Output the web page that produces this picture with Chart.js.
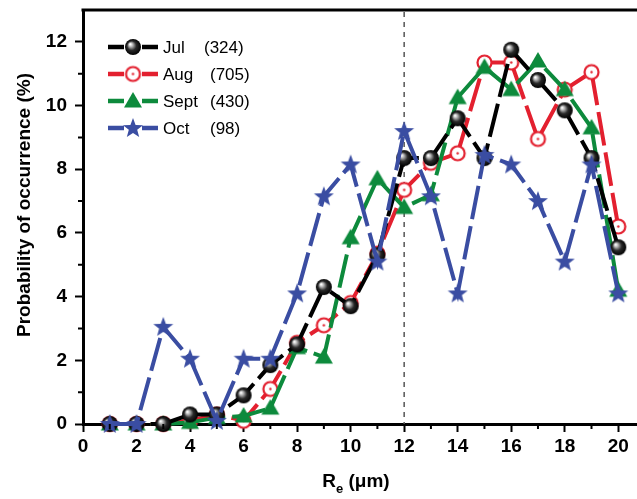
<!DOCTYPE html>
<html>
<head>
<meta charset="utf-8">
<script src="https://cdn.jsdelivr.net/npm/chart.js@4"></script>
<style>
  html, body { margin: 0; padding: 0; background: #fff; }
</style>
</head>
<body>
<canvas id="chart" width="637" height="499"></canvas>
<script>
// ── Data ─────────────────────────────────────────────────────────────────────
const RE   = [1, 2, 3, 4, 5, 6, 7, 8, 9, 10, 11, 12, 13, 14, 15, 16, 17, 18, 19, 20];
const JUL  = [0, 0, 0, 0.3, 0.3, 0.9, 1.85, 2.5, 4.3, 3.7, 5.3, 8.35, 8.35, 9.6, 8.35, 11.75, 10.8, 9.85, 8.35, 5.55];
const AUG  = [0, 0, 0, 0.1, 0.3, 0.1, 1.1, 2.55, 3.1, 3.8, 5.35, 7.35, 8.2, 8.5, 11.35, 11.35, 8.95, 10.5, 11.05, 6.2];
const SEPT = [0, 0, 0, 0.05, 0.2, 0.25, 0.5, 2.4, 2.1, 5.85, 7.7, 6.8, 7.2, 10.25, 11.2, 10.5, 11.4, 10.5, 9.3, 4.2];
const OCT  = [0, 0, 3.05, 2.05, 0.1, 2.05, 2.05, 4.1, 7.15, 8.15, 5.1, 9.2, 7.15, 4.1, 8.45, 8.15, 7.0, 5.1, 8.15, 4.1];

const SERIES_NAMES  = ['Jul', 'Aug', 'Sept', 'Oct'];
const SERIES_COUNTS = ['(324)', '(705)', '(430)', '(98)'];

const X_TICKS = [0, 2, 4, 6, 8, 10, 12, 14, 16, 18, 20];
const X_MINOR = [1, 3, 5, 7, 9, 11, 13, 15, 17, 19];
const Y_TICKS = [0, 2, 4, 6, 8, 10, 12];
const Y_MINOR = [1, 3, 5, 7, 9, 11];
const MARK_X  = 12;

const FONT = "'Liberation Sans', Arial, Helvetica, sans-serif";
const COLORS = ['#000000', '#e3202f', '#0d8a3c', '#3a4da2'];

// ── Marker images ────────────────────────────────────────────────────────────
function mk(size, draw) {
  const c = document.createElement('canvas');
  c.width = size; c.height = size;
  draw(c.getContext('2d'), size / 2);
  return c;
}

const sphere = mk(18, (g, m) => {
  const grad = g.createRadialGradient(m - 2.8, m - 2.8, 0.5, m, m, 8);
  grad.addColorStop(0, '#ffffff');
  grad.addColorStop(0.22, '#b0b0b0');
  grad.addColorStop(0.55, '#2a2a2a');
  grad.addColorStop(1, '#000000');
  g.fillStyle = grad;
  g.beginPath(); g.arc(m, m, 8, 0, Math.PI * 2); g.fill();
});

const ring = mk(19, (g, m) => {
  g.fillStyle = '#fff'; g.strokeStyle = COLORS[1]; g.lineWidth = 2.2;
  g.beginPath(); g.arc(m, m, 7, 0, Math.PI * 2); g.fill(); g.stroke();
  g.fillStyle = COLORS[1];
  g.beginPath(); g.arc(m, m, 1.2, 0, Math.PI * 2); g.fill();
});

const tri = mk(20, (g, m) => {
  g.fillStyle = COLORS[2];
  g.beginPath(); g.moveTo(m, m - 9); g.lineTo(m + 9, m + 6.5); g.lineTo(m - 9, m + 6.5); g.closePath(); g.fill();
});

const star = mk(22, (g, m) => {
  g.fillStyle = COLORS[3];
  g.beginPath();
  for (let i = 0; i < 10; i++) {
    const r = i % 2 ? 4.4 : 10.5;
    const a = -Math.PI / 2 + i * Math.PI / 5;
    const px = m + r * Math.cos(a), py = m + 0.5 + r * Math.sin(a);
    i ? g.lineTo(px, py) : g.moveTo(px, py);
  }
  g.closePath(); g.fill();
});

const MARKERS = [sphere, ring, tri, star];

// ── Decorations: dashed line, minor ticks, top frame, titles, legend ────────
const decor = {
  id: 'decor',
  beforeDatasetsDraw(chart) {
    const { ctx, chartArea: a, scales: { x } } = chart;
    const px = x.getPixelForValue(MARK_X);
    ctx.save();
    ctx.strokeStyle = '#555'; ctx.lineWidth = 1.5; ctx.setLineDash([5, 5]);
    ctx.beginPath(); ctx.moveTo(px, a.top + 2); ctx.lineTo(px, a.bottom); ctx.stroke();
    ctx.restore();
  },
  afterDraw(chart) {
    const { ctx, chartArea: a, scales: { x, y } } = chart;
    ctx.save();
    ctx.strokeStyle = '#000'; ctx.lineWidth = 2;
    ctx.beginPath();
    for (const v of X_MINOR) { const px = x.getPixelForValue(v); ctx.moveTo(px, a.bottom); ctx.lineTo(px, a.bottom + 5); }
    for (const v of Y_MINOR) { const py = y.getPixelForValue(v); ctx.moveTo(a.left, py); ctx.lineTo(a.left - 5, py); }
    ctx.stroke();

    // top frame line
    ctx.lineWidth = 3;
    ctx.beginPath();
    ctx.moveTo(a.left - 1.5, a.top); ctx.lineTo(chart.width, a.top);
    ctx.stroke();

    // x title with subscript
    ctx.fillStyle = '#000';
    ctx.textBaseline = 'alphabetic';
    const big = `bold 19px ${FONT}`, small = `bold 13px ${FONT}`;
    ctx.font = big; const wR = ctx.measureText('R').width, wT = ctx.measureText(' (μm)').width;
    ctx.font = small; const wE = ctx.measureText('e').width;
    let tx = 356 - (wR + wE + wT) / 2;
    ctx.font = big; ctx.fillText('R', tx, 487); tx += wR;
    ctx.font = small; ctx.fillText('e', tx, 493); tx += wE;
    ctx.font = big; ctx.fillText(' (μm)', tx, 487);

    // y title
    ctx.save();
    ctx.translate(25, 205); ctx.rotate(-Math.PI / 2);
    ctx.textAlign = 'center'; ctx.textBaseline = 'middle';
    ctx.font = big;
    ctx.fillText('Probability of occurrence (%)', 0, 0);
    ctx.restore();

    // legend
    ctx.font = `17px ${FONT}`;
    ctx.textBaseline = 'middle';
    SERIES_NAMES.forEach((name, i) => {
      const ly = 47 + i * 27;
      ctx.strokeStyle = COLORS[i]; ctx.lineWidth = 4.5;
      ctx.beginPath();
      ctx.moveTo(108, ly); ctx.lineTo(124, ly);
      ctx.moveTo(142, ly); ctx.lineTo(158, ly);
      ctx.stroke();
      const m = MARKERS[i];
      ctx.drawImage(m, 133 - m.width / 2, ly - m.height / 2);
      ctx.fillStyle = '#000';
      ctx.fillText(name, 163, ly + 1);
      ctx.fillText(SERIES_COUNTS[i], i === 0 ? 204 : 210, ly + 1);
    });
    ctx.restore();
  },
};

// ── Chart ────────────────────────────────────────────────────────────────────
const seriesData = [JUL, AUG, SEPT, OCT];
const drawOrder = [1, 3, 2, 0];

const datasets = seriesData.map((vals, i) => ({
  label: SERIES_NAMES[i],
  data: RE.map((r, j) => ({ x: r, y: vals[j] })),
  borderColor: COLORS[i],
  borderWidth: 4,
  borderDash: [34, 7],
  pointStyle: MARKERS[i],
  pointRadius: 8,
  tension: 0,
  clip: false,
  order: drawOrder[i],
}));

new Chart(document.getElementById('chart'), {
  type: 'line',
  data: { datasets },
  plugins: [decor],
  options: {
    responsive: false,
    animation: false,
    devicePixelRatio: 1,
    layout: { autoPadding: false, padding: { top: 10, right: 0, left: 0, bottom: 0 } },
    plugins: { legend: { display: false }, tooltip: { enabled: false } },
    scales: {
      x: {
        type: 'linear', min: 0, max: 20.7,
        afterBuildTicks: s => { s.ticks = X_TICKS.map(v => ({ value: v })); },
        afterFit: s => { s.height = 75; s.paddingLeft = 0; s.paddingRight = 0; },
        ticks: { color: '#000', font: { family: FONT, size: 19, weight: 'bold' }, padding: 3, maxRotation: 0, autoSkip: false },
        grid: { drawOnChartArea: false, tickLength: 8, tickWidth: 2, tickColor: '#000' },
        border: { color: '#000', width: 3 },
      },
      y: {
        type: 'linear', min: 0, max: 13,
        afterBuildTicks: s => { s.ticks = Y_TICKS.map(v => ({ value: v })); },
        afterFit: s => { s.width = 83; s.paddingTop = 0; s.paddingBottom = 0; },
        ticks: { color: '#000', font: { family: FONT, size: 19, weight: 'bold' }, padding: 8 },
        grid: { drawOnChartArea: false, tickLength: 8, tickWidth: 2, tickColor: '#000' },
        border: { color: '#000', width: 3 },
      },
    },
  },
});
</script>
</body>
</html>
